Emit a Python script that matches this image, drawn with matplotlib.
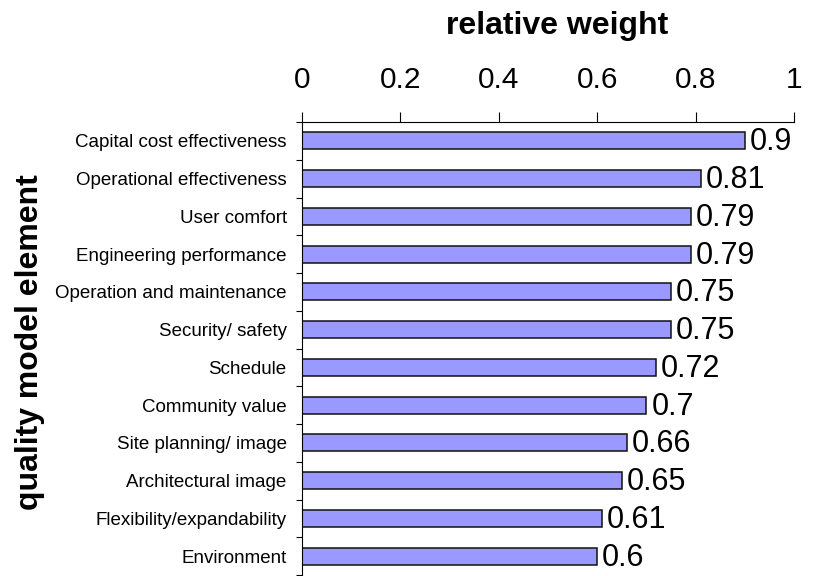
import matplotlib
matplotlib.use("Agg")
import matplotlib.pyplot as plt
import numpy as np

plt.rcParams['font.family'] = ['Liberation Sans', 'DejaVu Sans']

elements = [
    "Capital cost effectiveness",
    "Operational effectiveness",
    "User comfort",
    "Engineering performance",
    "Operation and maintenance",
    "Security/ safety",
    "Schedule",
    "Community value",
    "Site planning/ image",
    "Architectural image",
    "Flexibility/expandability",
    "Environment",
]
weights = [0.9, 0.81, 0.79, 0.79, 0.75, 0.75, 0.72, 0.7, 0.66, 0.65, 0.61, 0.6]
x_ticks = [0, 0.2, 0.4, 0.6, 0.8, 1]
x_tick_labels = ["0", "0.2", "0.4", "0.6", "0.8", "1"]

W, H = 819, 576
fig = plt.figure(figsize=(W / 100, H / 100), dpi=100)
ax = fig.add_axes([302 / W, 1 - 575 / H, (794 - 302) / W, (575 - 122) / H])

pos = np.arange(len(elements))
ax.barh(pos, weights, height=0.455, color="#9999FF", edgecolor="#111111",
        linewidth=1.1, zorder=2)

for y, v in zip(pos, weights):
    ax.text(v + 0.01, y + 0.04, f"{v:g}", va="center", ha="left",
            fontsize=22, color="black")

ax.set_xlim(0, 1)
ax.set_ylim(len(elements) - 0.5, -0.5)

# x axis on top
ax.xaxis.set_ticks_position("top")
ax.xaxis.set_label_position("top")
ax.set_xticks(x_ticks)
ax.set_xticklabels(x_tick_labels, fontsize=21.5)
ax.tick_params(axis="x", direction="out", length=7.2, width=0.8,
               pad=13, colors="black")

# y axis: labels at category centres, tick marks between categories
ax.set_yticks(pos)
ax.set_yticklabels(elements, fontsize=13.5)
ax.tick_params(axis="y", which="major", length=0, pad=11)
ax.set_yticks(np.arange(len(elements) + 1) - 0.5, minor=True)
ax.tick_params(axis="y", which="minor", direction="out", length=4.5, width=0.8)

for side in ("right", "bottom"):
    ax.spines[side].set_visible(False)
for side in ("left", "top"):
    ax.spines[side].set_linewidth(0.8)
    ax.spines[side].set_color("black")

fig.text(557 / W, 1 - 26 / H, "relative weight", ha="center", va="center",
         fontsize=23, fontweight="bold")
fig.text(30 / W, 1 - 342 / H, "quality model element", ha="center",
         va="center", rotation=90, fontsize=23, fontweight="bold")

fig.savefig("out.png", dpi=100)
